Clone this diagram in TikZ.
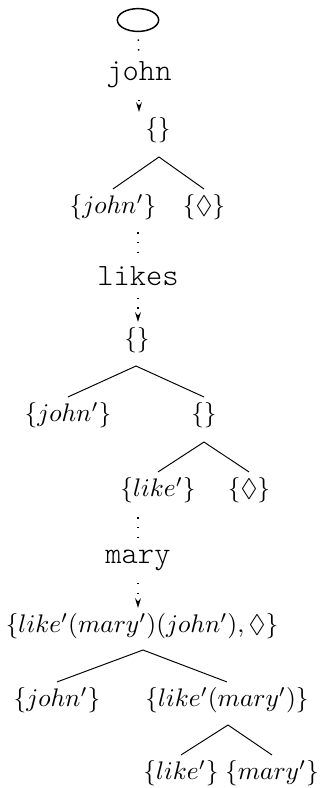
\RequirePackage{fix-cm}
\documentclass[tikz,border=0pt]{standalone}
\usepackage{amssymb}
\usepackage{fontspec}
\newfontfamily\wordfont{Latin Modern Mono Light}
\usepackage{tikz}
\usetikzlibrary{shapes.geometric, arrows.meta, positioning}
\tikzset{
    word/.style={font=\wordfont\fontsize{12.8}{15}\selectfont, anchor=base, inner sep=2pt},
    sem/.style={font=\fontsize{10.5}{12}\selectfont, inner sep=2pt},
    axiom/.style={ellipse, draw=black, semithick, minimum width=0.6cm, minimum height=0.25cm},
    dotline/.style={line width=0.6pt, dash pattern=on 0.6pt off 3.4pt, shorten <=3pt, shorten >=2pt},
    dotarrow/.style={dotline, shorten >=0pt, -{Stealth[length=4pt, width=2.4pt]}},
    branch/.style={thin}
}
\begin{document}
\begin{tikzpicture}[x=0.01453cm, y=-0.01453cm]
    \useasboundingbox (0,0) rectangle (320,788);

    % Axiom and first word
    \node (ax) [axiom] at (138,20) {};
    \node (w1) [word] at (139,80) {john};
    \draw [dotline] (ax) -- (w1);

    % Tree after john
    \node (t1) [sem] at (158,130) {$\{\}$};
    \coordinate (a1) at (159,157);
    \node (t1l) [sem] at (113,207) {$\{john'\}$};
    \node (t1r) [sem] at (204,207) {$\{\Diamond\}$};
    \draw [dotarrow] (w1) -- (w1 |- t1.north);
    \draw [branch] (t1l.north) -- (a1) -- (t1r.north);

    % Second word
    \coordinate (d1) at (138,225);
    \node (w2) [word] at (138,285) {likes};
    \draw [dotline] (d1) -- (w2);

    % Tree after likes
    \node (t2) [sem] at (137,340) {$\{\}$};
    \coordinate (a2) at (136,366);
    \node (t2l) [sem] at (68,415) {$\{john'\}$};
    \node (t3) [sem] at (204,415) {$\{\}$};
    \coordinate (a3) at (204,442);
    \node (t3l) [sem] at (158,490) {$\{like'\}$};
    \node (t3r) [sem] at (249,490) {$\{\Diamond\}$};
    \draw [dotarrow] (w2) -- (w2 |- t2.north);
    \draw [branch] (t2l.north) -- (a2) -- (t3.north);
    \draw [branch] (t3l.north) -- (a3) -- (t3r.north);

    % Third word
    \coordinate (d2) at (138,510);
    \node (w3) [word] at (138,563) {mary};
    \draw [dotline] (d2) -- (w3);

    % Tree after mary
    \node (t4) [sem] at (142,626) {$\{like'(mary')(john'),\Diamond\}$};
    \coordinate (a4) at (143,650);
    \node (t4l) [sem] at (57,700) {$\{john'\}$};
    \node (t5) [sem] at (227,700) {$\{like'(mary')\}$};
    \coordinate (a5) at (228,725);
    \node (t5l) [sem] at (181,773) {$\{like'\}$};
    \node (t5r) [sem] at (272,773) {$\{mary'\}$};
    \draw [dotarrow] (w3) -- (w3 |- t4.north);
    \draw [branch] (t4l.north) -- (a4) -- (t5.north);
    \draw [branch] (t5l.north) -- (a5) -- (t5r.north);
\end{tikzpicture}
\end{document}
